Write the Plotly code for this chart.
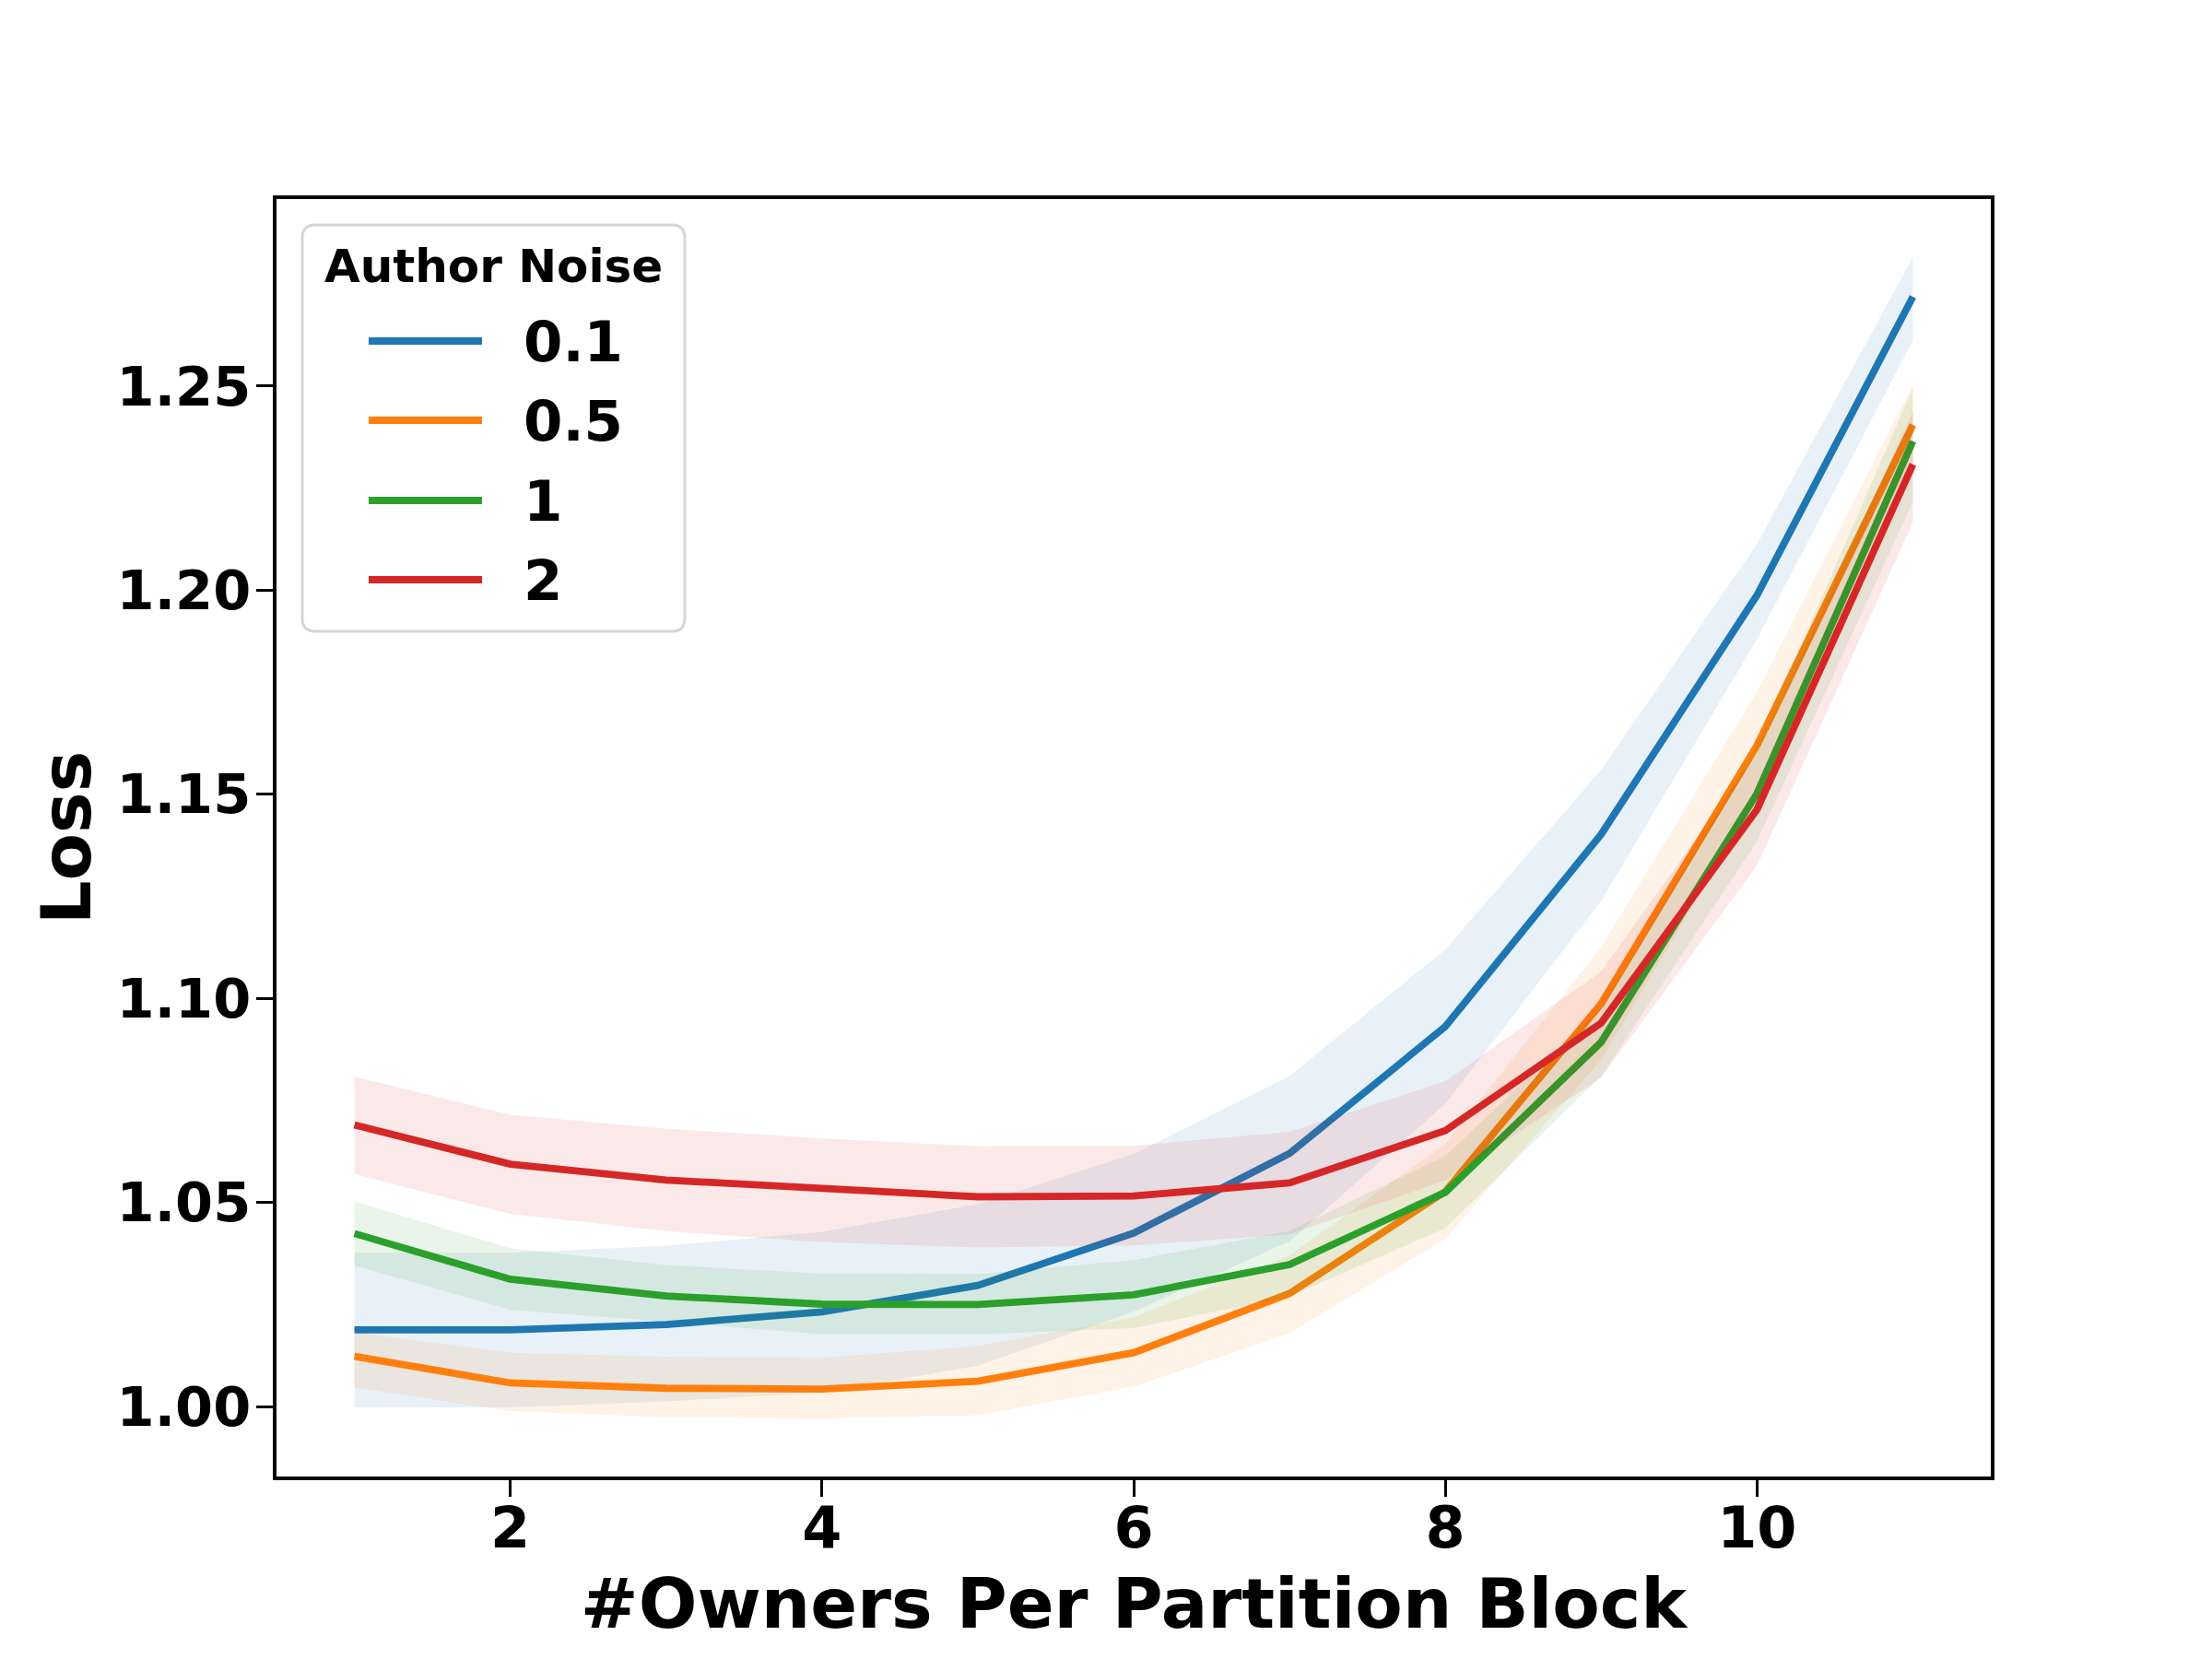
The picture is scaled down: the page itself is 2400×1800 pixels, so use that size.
import plotly.graph_objects as go

# ---------------- data ----------------
owners = [1, 2, 3, 4, 5, 6, 7, 8, 9, 10, 11]
noise_labels = ["0.1", "0.5", "1", "2"]
legend_title = "Author Noise"

loss_01 = [1.0188, 1.0188, 1.0201, 1.0232, 1.0297, 1.0425, 1.0620, 1.0931, 1.1402, 1.1988, 1.2719]
upper_01 = [1.0377, 1.0377, 1.0394, 1.0428, 1.0496, 1.0619, 1.0810, 1.1120, 1.1560, 1.2113, 1.2816]
lower_01 = [0.9998, 0.9998, 1.0013, 1.0035, 1.0100, 1.0233, 1.0405, 1.0742, 1.1239, 1.1880, 1.2612]

loss_05 = [1.0123, 1.0058, 1.0045, 1.0043, 1.0062, 1.0132, 1.0277, 1.0527, 1.0987, 1.1620, 1.2405]
upper_05 = [1.0182, 1.0132, 1.0122, 1.0120, 1.0148, 1.0219, 1.0370, 1.0644, 1.1126, 1.1752, 1.2503]
lower_05 = [1.0047, 0.9989, 0.9974, 0.9971, 0.9979, 1.0049, 1.0180, 1.0411, 1.0850, 1.1490, 1.2300]

loss_1 = [1.0424, 1.0312, 1.0271, 1.0251, 1.0250, 1.0274, 1.0348, 1.0525, 1.0893, 1.1502, 1.2365]
upper_1 = [1.0503, 1.0388, 1.0347, 1.0326, 1.0325, 1.0359, 1.0430, 1.0614, 1.0975, 1.1620, 1.2495]
lower_1 = [1.0345, 1.0237, 1.0208, 1.0177, 1.0177, 1.0192, 1.0270, 1.0437, 1.0810, 1.1385, 1.2217]

loss_2 = [1.0690, 1.0594, 1.0555, 1.0533, 1.0514, 1.0516, 1.0548, 1.0676, 1.0940, 1.1463, 1.2308]
upper_2 = [1.0808, 1.0715, 1.0681, 1.0657, 1.0638, 1.0639, 1.0673, 1.0797, 1.1066, 1.1600, 1.2438]
lower_2 = [1.0570, 1.0472, 1.0430, 1.0403, 1.0390, 1.0395, 1.0422, 1.0554, 1.0806, 1.1326, 1.2166]

x_ticks = [2, 4, 6, 8, 10]
y_ticks = [1.00, 1.05, 1.10, 1.15, 1.20, 1.25]

colors = ["#1f77b4", "#ff7f0e", "#2ca02c", "#d62728"]
band_colors = ["rgba(31,119,180,0.1)", "rgba(255,127,14,0.1)",
               "rgba(44,160,44,0.1)", "rgba(214,39,40,0.1)"]

series = [
    (loss_01, upper_01, lower_01),
    (loss_05, upper_05, lower_05),
    (loss_1, upper_1, lower_1),
    (loss_2, upper_2, lower_2),
]

FONT = "DejaVu Sans"

# page body has an 8px default margin; compensate so the axes land where they should
W, H = 2392, 1792
ML, MR, MT, MB = 292, 240, 208, 198
PX0, PY0 = 8 + ML, 8 + MT               # screen px of plot-area top-left
PW, PH = W - ML - MR, H - MT - MB


def px(xs):
    return (xs - PX0) / PW


def py(ys):
    return 1 - (ys - PY0) / PH


fig = go.Figure()
for i, (mean, up, lo) in enumerate(series):
    fig.add_trace(go.Scatter(
        x=owners, y=mean, mode="lines", name=noise_labels[i],
        line=dict(color=colors[i], width=7.8), showlegend=False,
    ))
    fig.add_trace(go.Scatter(
        x=owners + owners[::-1], y=up + lo[::-1],
        mode="lines", fill="toself", fillcolor=band_colors[i],
        line=dict(width=0, color="rgba(0,0,0,0)"),
        showlegend=False, hoverinfo="skip",
    ))

all_vals = upper_01 + upper_05 + upper_1 + upper_2 + lower_01 + lower_05 + lower_1 + lower_2
ymin, ymax = min(all_vals), max(all_vals)
pad = 0.05 * (ymax - ymin)

# ---------------- legend (matplotlib-style box) ----------------
L, R, T, B, rad = 328, 743, 244, 685, 14
rx, ry = rad / PW, rad / PH
x0, x1, y0, y1 = px(L), px(R), py(B), py(T)
path = (f"M{x0 + rx},{y1} L{x1 - rx},{y1} Q{x1},{y1} {x1},{y1 - ry} "
        f"L{x1},{y0 + ry} Q{x1},{y0} {x1 - rx},{y0} L{x0 + rx},{y0} "
        f"Q{x0},{y0} {x0},{y0 + ry} L{x0},{y1 - ry} Q{x0},{y1} {x0 + rx},{y1} Z")
shapes = [dict(type="path", xref="paper", yref="paper", path=path,
               fillcolor="white", line=dict(color="#d6d6d6", width=3), layer="above")]
annotations = [dict(text=legend_title, xref="paper", yref="paper",
                    x=px(535), y=py(289), xanchor="center", yanchor="middle",
                    showarrow=False,
                    font=dict(family=FONT, size=50, weight="bold", color="black"))]
row_y = [370, 456, 543, 629]
for i, lab in enumerate(noise_labels):
    shapes.append(dict(type="line", xref="paper", yref="paper",
                       x0=px(400), x1=px(523), y0=py(row_y[i]), y1=py(row_y[i]),
                       line=dict(color=colors[i], width=7.8), layer="above"))
    annotations.append(dict(text=lab, xref="paper", yref="paper",
                            x=px(566), y=py(row_y[i]), xanchor="left", yanchor="middle",
                            showarrow=False,
                            font=dict(family=FONT, size=61, weight="bold", color="black")))

fig.update_layout(
    width=W, height=H,
    margin=dict(l=ML, r=MR, t=MT, b=MB),
    paper_bgcolor="white", plot_bgcolor="white",
    font=dict(family=FONT, color="black"),
    showlegend=False,
    shapes=shapes, annotations=annotations,
    xaxis=dict(
        range=[0.5, 11.5], tickvals=x_ticks, ticktext=[str(v) for v in x_ticks],
        showgrid=False, zeroline=False,
        showline=True, linecolor="black", linewidth=4, mirror=True,
        ticks="outside", ticklen=18, tickwidth=3, tickcolor="black",
        ticklabelstandoff=-19,
        tickfont=dict(family=FONT, size=62, weight="bold", color="black"),
        title=dict(text="#Owners Per Partition Block", standoff=21,
                   font=dict(family=FONT, size=75, weight="bold", color="black")),
    ),
    yaxis=dict(
        range=[ymin - pad, ymax + pad], tickvals=y_ticks,
        ticktext=[f"{v:.2f}" for v in y_ticks],
        showgrid=False, zeroline=False,
        showline=True, linecolor="black", linewidth=4, mirror=True,
        ticks="outside", ticklen=18, tickwidth=3, tickcolor="black",
        ticklabelstandoff=-6,
        tickfont=dict(family=FONT, size=59, weight="bold", color="black"),
        title=dict(text="Loss", standoff=4,
                   font=dict(family=FONT, size=75, weight="bold", color="black")),
    ),
)

fig.write_html("out.html")
